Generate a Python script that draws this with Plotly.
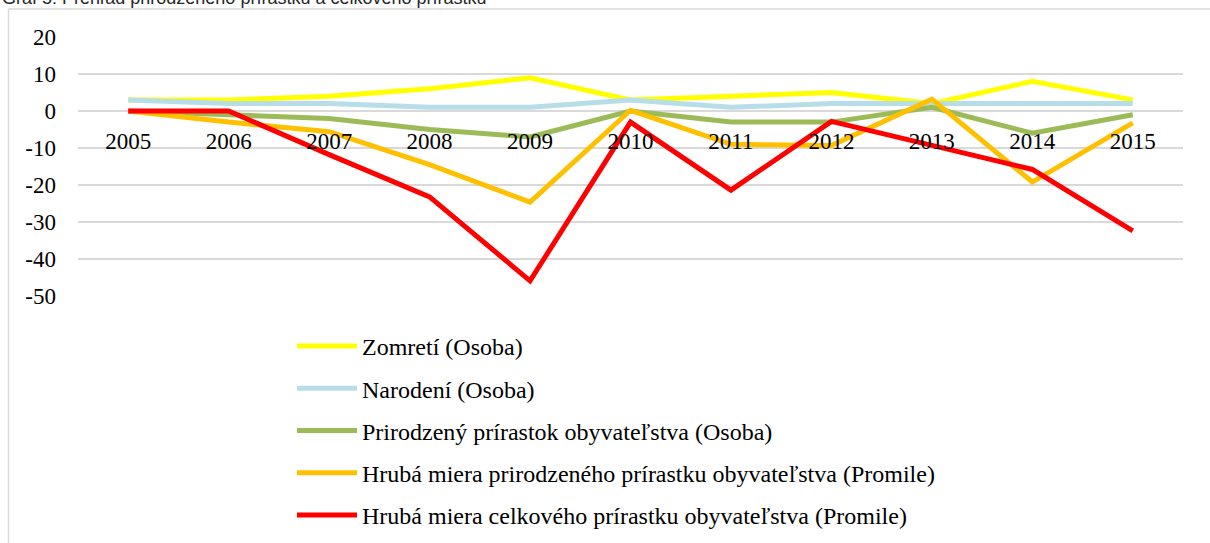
import plotly.graph_objects as go

years = ["2005", "2006", "2007", "2008", "2009", "2010", "2011", "2012", "2013", "2014", "2015"]
zomreti = [3, 3, 4, 6, 9, 3, 4, 5, 2, 8, 3]
narodeni = [3, 2, 2, 1, 1, 3, 1, 2, 2, 2, 2]
prirodzeny = [0, -1, -2, -5, -7, 0, -3, -3, 1, -6, -1]
hruba_prir = [0, -3, -5.6, -14.5, -24.6, 0.2, -9, -9.3, 3.2, -19.2, -3.2]
hruba_celk = [0, 0, -11.8, -23.2, -45.9, -3, -21.4, -2.8, -9.3, -15.8, -32.4]

y_tick_values = [20, 10, 0, -10, -20, -30, -40, -50]
y_tick_labels = ["20", "10", "0", "-10", "-20", "-30", "-40", "-50"]

series_names = [
    "Zomretí (Osoba)",
    "Narodení (Osoba)",
    "Prirodzený prírastok obyvateľstva (Osoba)",
    "Hrubá miera prirodzeného prírastku obyvateľstva (Promile)",
    "Hrubá miera celkového prírastku obyvateľstva (Promile)",
]
series_values = [zomreti, narodeni, prirodzeny, hruba_prir, hruba_celk]
colors = ["#FFFF00", "#B7DEE8", "#9BBB59", "#FFC000", "#FF0000"]

W, H = 1210, 543
L, R, T, B = 78, 27, 37, 247
pw, ph = W - L - R, H - T - B


def px(x):
    return (x - L) / pw


def py(y):
    return (H - B - y) / ph


fig = go.Figure()
for i, (name, vals, col) in enumerate(zip(series_names, series_values, colors)):
    fig.add_trace(go.Scatter(
        x=years, y=vals, name=name, mode="lines",
        line=dict(color=col, width=5),
        legendgroup=f"g{i}",
    ))

serif = "Liberation Serif, Times New Roman, serif"

fig.update_layout(
    width=W, height=H,
    margin=dict(l=L, r=R, t=T, b=B, pad=0, autoexpand=False),
    paper_bgcolor="white", plot_bgcolor="white",
    font=dict(family=serif, color="black", size=23),
    showlegend=True,
    legend=dict(
        x=px(292), y=py(324), xanchor="left", yanchor="top",
        font=dict(family=serif, size=24, color="black"),
        tracegroupgap=8, itemwidth=60,
        bgcolor="rgba(0,0,0,0)",
    ),
    xaxis=dict(
        type="category", range=[-0.5, 10.5],
        anchor="free", position=50 / 70, automargin=False,
        showgrid=False, showline=False, zeroline=False, ticks="",
        tickfont=dict(family=serif, size=23, color="black"),
        ticklabelstandoff=14,
    ),
    yaxis=dict(
        range=[-50, 20], tickmode="array", automargin=False,
        tickvals=y_tick_values, ticktext=y_tick_labels,
        showgrid=True, gridcolor="#D9D9D9", gridwidth=1.5,
        zeroline=True, zerolinecolor="#D9D9D9", zerolinewidth=1.5,
        showline=False, ticks="",
        tickfont=dict(family=serif, size=23, color="black"),
        ticklabelstandoff=21,
    ),
    shapes=[
        dict(type="line", xref="paper", yref="paper",
             x0=px(8.5), x1=px(8.5), y0=py(9), y1=py(560),
             line=dict(color="#D9D9D9", width=1.5)),
        dict(type="line", xref="paper", yref="paper",
             x0=px(8.5), x1=px(1220), y0=py(9), y1=py(9),
             line=dict(color="#D9D9D9", width=1.5)),
    ],
    annotations=[
        dict(text="Graf 5: Prehľad prirodzeného prírastku a celkového prírastku",
             xref="paper", yref="paper", x=px(0), y=py(10),
             xanchor="left", yanchor="bottom", showarrow=False,
             font=dict(family="Liberation Sans, Arial, sans-serif", size=18, color="#262626")),
    ],
)

fig.write_html("out.html", config={"displayModeBar": False},
               post_script="document.body.style.margin='0';")
